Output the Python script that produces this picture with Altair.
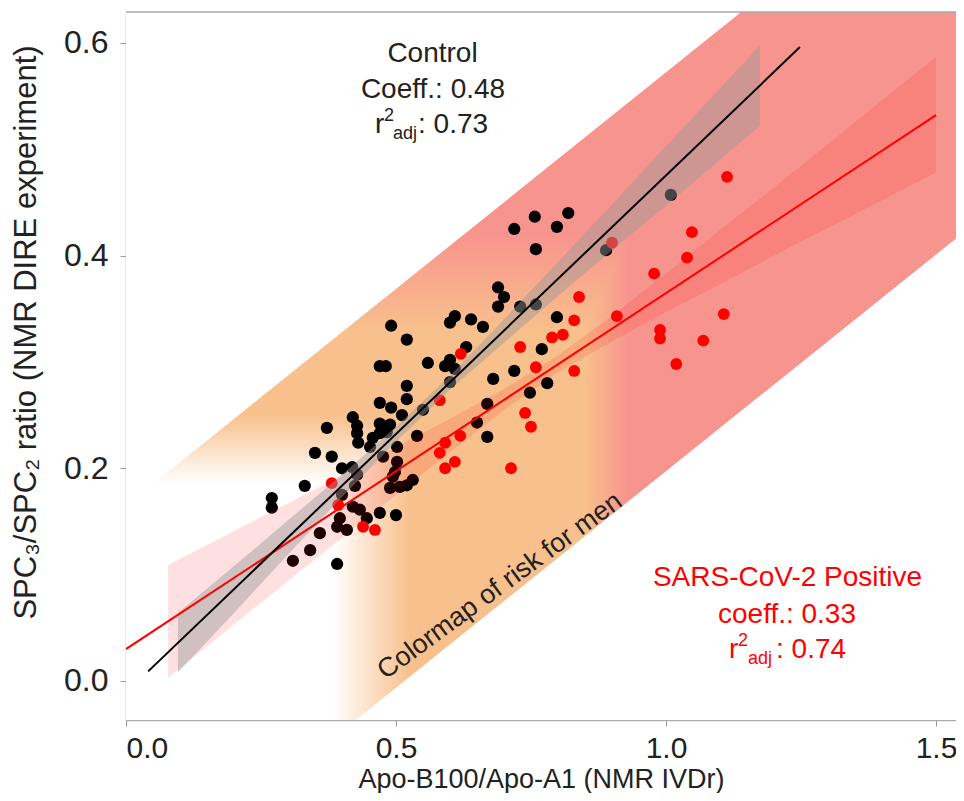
import altair as alt
import pandas as pd

# ---------------- data ----------------
ctrl_x = [0.757, 0.719, 0.819, 0.798, 0.759, 0.889, 1.009, 0.689, 0.700, 0.689,
          0.730, 0.759, 0.798, 0.609, 0.600, 0.639, 0.661, 0.491, 0.520, 0.630,
          0.770, 0.559, 0.470, 0.481, 0.591, 0.600, 0.609, 0.680, 0.719, 0.780,
          0.748, 0.600, 0.520, 0.520, 0.470, 0.491, 0.511, 0.420, 0.550, 0.669,
          0.650, 0.470, 0.489, 0.372, 0.669, 0.428, 0.428, 0.470, 0.483, 0.457,
          0.430, 0.452, 0.539, 0.350, 0.381, 0.502, 0.476, 0.502, 0.400, 0.419,
          0.428, 0.498, 0.494, 0.331, 0.424, 0.489, 0.507, 0.520, 0.531, 0.270,
          0.270, 0.400, 0.420, 0.433, 0.470, 0.500, 0.446, 0.396, 0.391, 0.409,
          0.359, 0.341, 0.309, 0.391]
ctrl_y = [0.4365, 0.425, 0.440, 0.427, 0.406, 0.405, 0.457, 0.370, 0.361, 0.352,
          0.352, 0.354, 0.342, 0.343, 0.337, 0.340, 0.333, 0.334, 0.321, 0.314,
          0.312, 0.299, 0.296, 0.296, 0.296, 0.302, 0.2935, 0.284, 0.2915, 0.280,
          0.271, 0.281, 0.2775, 0.265, 0.2615, 0.257, 0.250, 0.248, 0.255, 0.2605,
          0.243, 0.242, 0.241, 0.238, 0.2295, 0.240, 0.233, 0.233, 0.234, 0.2285,
          0.224, 0.220, 0.2305, 0.2145, 0.211, 0.220, 0.211, 0.206, 0.200, 0.201,
          0.194, 0.1965, 0.192, 0.1835, 0.1835, 0.1815, 0.1825, 0.184, 0.189, 0.172,
          0.163, 0.175, 0.164, 0.161, 0.158, 0.156, 0.153, 0.153, 0.145, 0.142,
          0.139, 0.123, 0.113, 0.110]

pos_x = [1.113, 1.048, 1.039, 0.978, 1.107, 0.989, 0.989, 1.069, 1.019, 0.900,
         0.839, 0.830, 0.909, 0.789, 0.809, 0.730, 0.759, 0.830, 0.739, 0.750,
         0.713, 0.620, 0.581, 0.619, 0.591, 0.581, 0.609, 0.591, 0.381, 0.393,
         0.439, 0.461]
pos_y = [0.474, 0.422, 0.398, 0.383, 0.345, 0.330, 0.322, 0.320, 0.298, 0.412,
         0.361, 0.339, 0.343, 0.323, 0.3255, 0.314, 0.295, 0.2915, 0.252, 0.239,
         0.200, 0.3075, 0.264, 0.2305, 0.224, 0.2145, 0.206, 0.200, 0.186, 0.1655,
         0.145, 0.142]

# regression lines (end points)
ctrl_fit_x = [0.041, 1.248]
ctrl_fit_y = [0.009, 0.596]
pos_fit_x = [0.0, 1.5]
pos_fit_y = [0.030, 0.532]

# confidence bands
ctrl_ci_x = [0.096, 0.2, 0.3, 0.4, 0.5, 0.6, 0.7, 0.8, 0.9, 1.0, 1.1, 1.174]
ctrl_ci_lo = [0.008, 0.064, 0.119, 0.173, 0.225, 0.274, 0.318, 0.362, 0.405, 0.447, 0.490, 0.522]
ctrl_ci_hi = [0.064, 0.108, 0.151, 0.194, 0.239, 0.287, 0.340, 0.394, 0.448, 0.503, 0.557, 0.598]

pos_ci_x = [0.078, 0.2, 0.3, 0.4, 0.5, 0.6, 0.7, 0.8, 0.9, 1.0, 1.1, 1.2, 1.3, 1.4, 1.5]
pos_ci_lo = [0.003, 0.053, 0.094, 0.1345, 0.175, 0.2154, 0.2545, 0.290, 0.3195, 0.347,
             0.373, 0.400, 0.426, 0.452, 0.478]
pos_ci_hi = [0.109, 0.141, 0.167, 0.1935, 0.220, 0.2466, 0.2745, 0.306, 0.3435, 0.383,
             0.424, 0.464, 0.505, 0.546, 0.587]

# risk colormap band (edges) and thresholds
band_x = [0.0, 1.537]
band_upper = [0.165, 0.791]
band_lower = [-0.210, 0.416]
risk_x = [0.0, 0.383, 0.526, 0.85, 0.93]
risk_y_boundary = [0.185, 0.185, 0.25, 0.33, 0.42]

# ---------------- styling ----------------
XMAX = 1.537
YMIN, YMAX = -0.0367, 0.629
W, H = 830, 708
FONT = "Liberation Sans"
ORANGE = "#F8C08C"
PINK = "#F8948E"
TXT = "#222222"

xs = alt.Scale(domain=[0, XMAX], nice=False, zero=False)
ys = alt.Scale(domain=[YMIN, YMAX], nice=False, zero=False)

x_axis = alt.Axis(values=[0, 0.5, 1.0, 1.5], format=".1f", grid=False,
                  title="Apo-B100/Apo-A1 (NMR IVDr)", titleFont=FONT, titleFontSize=27,
                  titleFontWeight="normal", titleColor=TXT, titleX=415, titleY=67,
                  titleAlign="center", titleBaseline="alphabetic",
                  labelFont=FONT, labelFontSize=30, labelColor=TXT, labelPadding=7,
                  tickSize=6, tickColor="#999999", domainColor="#aaaaaa", domainWidth=1.5)
y_axis = alt.Axis(values=[0, 0.2, 0.4, 0.6], format=".1f", grid=False,
                  title="SPC₃/SPC₂ ratio (NMR DIRE experiment)", titleFont=FONT,
                  titleFontSize=31, titleFontWeight="normal", titleColor=TXT,
                  titleX=-100, titleY=320, titleAngle=270, titleAlign="center",
                  titleBaseline="middle",
                  labelFont=FONT, labelFontSize=32, labelColor=TXT, labelPadding=12,
                  tickSize=6, tickColor="#999999", domainColor="#aaaaaa", domainWidth=1.5)


def X(field):
    return alt.X(field, scale=xs, axis=x_axis)


def Y(field):
    return alt.Y(field, scale=ys, axis=y_axis)


# horizontal gradient (risk by x)
def off_x(v):
    return v / XMAX


grad_h = alt.Gradient(gradient="linear", x1=0, x2=1, y1=0, y2=0, stops=[
    alt.GradientStop(color="#ffffff", offset=0),
    alt.GradientStop(color="#ffffff", offset=off_x(risk_x[1])),
    alt.GradientStop(color=ORANGE, offset=off_x(risk_x[2])),
    alt.GradientStop(color=ORANGE, offset=off_x(risk_x[3])),
    alt.GradientStop(color=PINK, offset=off_x(risk_x[4])),
    alt.GradientStop(color=PINK, offset=1),
])

ymin_b = min(risk_y_boundary)


def off_y(v):
    return (YMAX - v) / (YMAX - ymin_b)


grad_v = alt.Gradient(gradient="linear", x1=0, x2=0, y1=0, y2=1, stops=[
    alt.GradientStop(color=PINK, offset=0),
    alt.GradientStop(color=PINK, offset=off_y(0.42)),
    alt.GradientStop(color=ORANGE, offset=off_y(0.33)),
    alt.GradientStop(color=ORANGE, offset=off_y(0.25)),
    alt.GradientStop(color="#ffffff", offset=1),
])

bg_df = pd.DataFrame({"x": [0.0], "x2": [XMAX], "y": [YMIN], "y2": [YMAX]})
base = alt.Chart(bg_df).mark_rect(color=grad_h).encode(
    x=X("x:Q"), x2="x2:Q", y=Y("y:Q"), y2="y2:Q")

risk_df = pd.DataFrame({"x": risk_x, "b": risk_y_boundary, "top": [YMAX] * len(risk_x)})
overlay = alt.Chart(risk_df).mark_area(color=grad_v, clip=True).encode(
    x=X("x:Q"), y=Y("top:Q"), y2="b:Q")

mask_df = pd.DataFrame({"x": band_x, "up": band_upper, "lo": band_lower,
                        "hi": [0.9, 0.9], "bot": [-0.3, -0.3]})
mask_up = alt.Chart(mask_df).mark_area(color="white", clip=True).encode(
    x=X("x:Q"), y=Y("up:Q"), y2="hi:Q")
mask_lo = alt.Chart(mask_df).mark_area(color="white", clip=True).encode(
    x=X("x:Q"), y=Y("lo:Q"), y2="bot:Q")

ctrl_df = pd.DataFrame({"x": ctrl_x, "y": ctrl_y})
pos_df = pd.DataFrame({"x": pos_x, "y": pos_y})
pts_ctrl = alt.Chart(ctrl_df).mark_circle(size=150, opacity=1, color="#000000").encode(
    x=X("x:Q"), y=Y("y:Q"))
pts_pos = alt.Chart(pos_df).mark_circle(size=140, opacity=1, color="#FF0000").encode(
    x=X("x:Q"), y=Y("y:Q"))

ci_ctrl = alt.Chart(pd.DataFrame({"x": ctrl_ci_x, "lo": ctrl_ci_lo, "hi": ctrl_ci_hi})).mark_area(
    color="#999999", opacity=0.45).encode(x=X("x:Q"), y=Y("lo:Q"), y2="hi:Q")
ci_pos = alt.Chart(pd.DataFrame({"x": pos_ci_x, "lo": pos_ci_lo, "hi": pos_ci_hi})).mark_area(
    color="#FF0000", opacity=0.12).encode(x=X("x:Q"), y=Y("lo:Q"), y2="hi:Q")

line_ctrl = alt.Chart(pd.DataFrame({"x": ctrl_fit_x, "y": ctrl_fit_y})).mark_line(
    color="#000000", strokeWidth=2).encode(x=X("x:Q"), y=Y("y:Q"))
line_pos = alt.Chart(pd.DataFrame({"x": pos_fit_x, "y": pos_fit_y})).mark_line(
    color="#FF0000", strokeWidth=2, clip=True).encode(x=X("x:Q"), y=Y("y:Q"))

one = pd.DataFrame({"a": [0]})
top_border = alt.Chart(one).mark_rule(color="#aaaaaa", strokeWidth=1.5).encode(
    x=alt.value(0), x2=alt.value(W), y=alt.value(0))


def txt(text, x, y, size, color, align="left"):
    return alt.Chart(one).mark_text(text=text, font=FONT, fontSize=size, color=color,
                                    align=align, baseline="alphabetic").encode(
        x=alt.value(x), y=alt.value(y))


texts = [
    txt("Control", 306.5, 50, 28, TXT, "center"),
    txt("Coeff.: 0.48", 307, 86, 28, TXT, "center"),
    txt("r", 249, 121, 28, TXT),
    txt("2", 258, 109, 18, TXT),
    txt("adj", 267, 127, 18, TXT),
    txt(": 0.73", 292, 121, 28, TXT),
    txt("SARS-CoV-2 Positive", 661.5, 574, 28, "#FF0000", "center"),
    txt("coeff.: 0.33", 661, 611, 28, "#FF0000", "center"),
    txt("r", 603, 646, 28, "#FF0000"),
    txt("2", 612, 634, 18, "#FF0000"),
    txt("adj", 622, 652, 18, "#FF0000"),
    txt(": 0.74", 650, 646, 28, "#FF0000"),
]

cmap_label = alt.Chart(one).mark_text(text="Colormap of risk for men", font=FONT, fontSize=27,
                                      color=TXT, align="center", baseline="middle",
                                      angle=323.7).encode(x=alt.value(374), y=alt.value(574))

chart = alt.layer(base, overlay, mask_up, mask_lo, pts_ctrl, pts_pos, ci_pos, ci_ctrl,
                  line_pos, line_ctrl, top_border, cmap_label, *texts).properties(
    width=W, height=H,
    padding={"left": 118, "top": 4, "right": 0, "bottom": 73},
    autosize=alt.AutoSizeParams(type="none"),
).configure_view(stroke=None)

chart.save("out.html", embed_options={"renderer": "svg", "actions": False})
